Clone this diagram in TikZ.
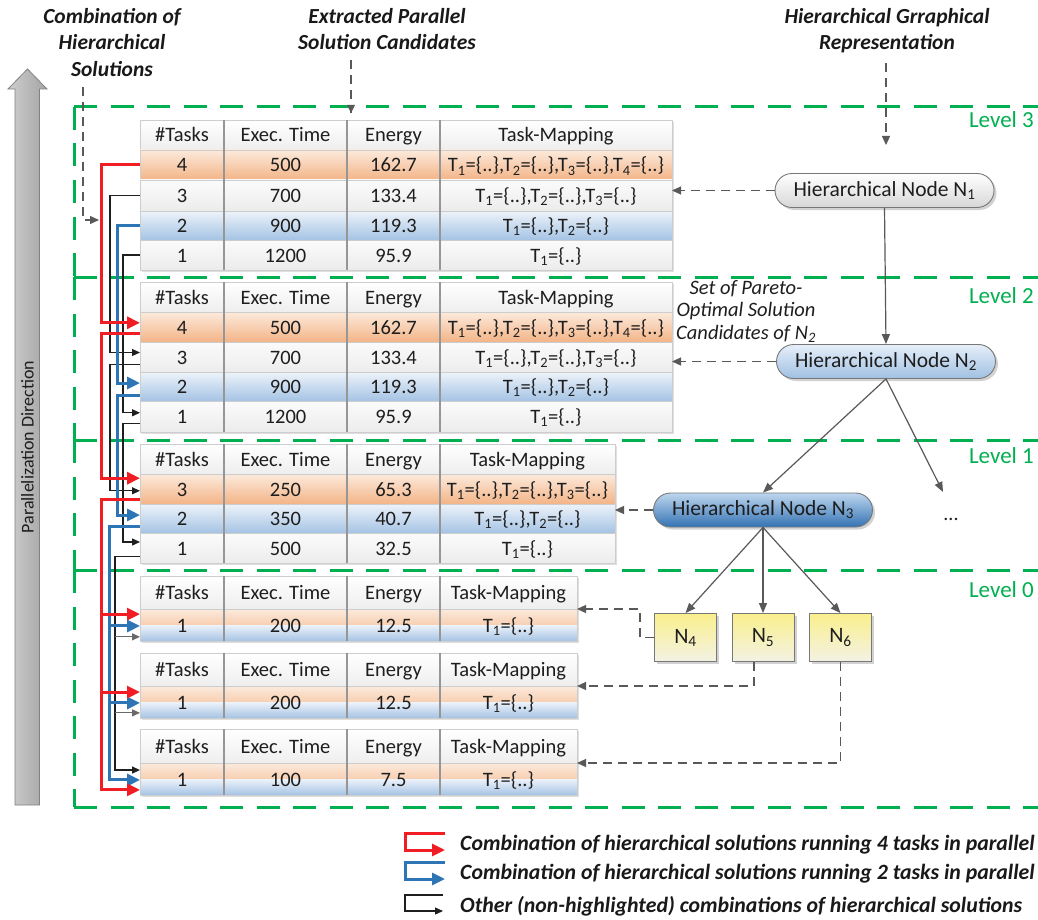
\documentclass[tikz,border=0pt]{standalone}
\usepackage{fontspec}
\setmainfont{Carlito}
\usetikzlibrary{arrows.meta,shadows,calc}

\definecolor{lvgreen}{RGB}{0,176,80}
\definecolor{conred}{RGB}{240,30,36}
\definecolor{conblue}{RGB}{46,117,182}
\definecolor{edgegray}{RGB}{89,89,89}
\definecolor{branchgray}{RGB}{105,105,105}
\definecolor{txt}{RGB}{30,30,30}
\definecolor{headtxt}{RGB}{25,25,25}
\definecolor{tblline}{RGB}{195,195,195}
\definecolor{rowline}{RGB}{205,205,205}
\definecolor{colline}{RGB}{150,150,150}
\definecolor{hdBot}{RGB}{238,238,238}
\definecolor{wTop}{RGB}{251,251,251}
\definecolor{wBot}{RGB}{236,236,236}
\definecolor{orTop}{RGB}{252,234,220}
\definecolor{orBot}{RGB}{243,180,135}
\definecolor{blTop}{RGB}{237,243,250}
\definecolor{blBot}{RGB}{165,195,228}
\definecolor{nodeline}{RGB}{120,120,120}
\definecolor{pAbot}{RGB}{215,215,215}
\definecolor{pBtop}{RGB}{230,239,249}
\definecolor{pBbot}{RGB}{160,192,226}
\definecolor{pCtop}{RGB}{190,214,238}
\definecolor{pCbot}{RGB}{52,115,180}
\definecolor{yTop}{RGB}{249,239,140}
\definecolor{yBot}{RGB}{243,242,228}
\definecolor{arL}{RGB}{205,205,205}
\definecolor{arM}{RGB}{238,238,238}
\definecolor{arR}{RGB}{165,165,165}
\definecolor{arEdge}{RGB}{130,130,130}

\newcommand\fsz[2]{\fontsize{#1}{#2}\selectfont}
\newcommand\Tm[1]{T\textsubscript{#1}=\{..\}}

% table frame: name, top, bottom, right edge
\newcommand\dgFrame[4]{%
  \node[tframe, minimum width={(#4-140)*1pt}, minimum height={(#3-#2)*1pt}] (#1) at ({(140+#4)/2},{(#2+#3)/2}) {};}
% table row: name, top, bottom, right edge, style, four cell texts
\newcommand\dgRow[9]{%
  \node[#5, inner sep=0pt, outer sep=0pt, minimum width={(#4-140)*1pt}, minimum height={(#3-#2)*1pt}] (#1) at ({(140+#4)/2},{(#2+#3)/2}) {};
  \node[cell] (#1a) at (182,{(#2+#3)/2+7}) {#6};
  \node[cell] (#1b) at (285.5,{(#2+#3)/2+7}) {#7};
  \node[cell] (#1c) at (393.5,{(#2+#3)/2+7}) {#8};
  \node[cell] (#1d) at ({(440+#4)/2},{(#2+#3)/2+7}) {#9};}
% column separators: top, bottom
\newcommand\dgCols[2]{%
  \foreach \cx in {224,347,440}{\draw[colsep] (\cx,#1) -- (\cx,#2);}}
% point on the left edge of a row at a given fraction of its height
\newcommand\dgPt[3]{\coordinate (#1) at ($(#2.north west)!#3!(#2.south west)$);}

\begin{document}
\begin{tikzpicture}[x=1pt,y=-1pt,
  tframe/.style={draw=tblline, fill=white, line width=0.8pt, inner sep=0pt, outer sep=0pt,
    drop shadow={shadow xshift=2pt, shadow yshift=-2pt, opacity=0.25}},
  hrow/.style={top color=white, bottom color=hdBot, draw=rowline, line width=0.6pt},
  wrow/.style={top color=wTop, bottom color=wBot, draw=rowline, line width=0.6pt},
  orow/.style={top color=orTop, bottom color=orBot, draw=rowline, line width=0.6pt},
  brow/.style={top color=blTop, bottom color=blBot, draw=rowline, line width=0.6pt},
  erow/.style={draw=rowline, line width=0.6pt, path picture={
      \shade[top color=orTop, bottom color=orBot]
        (path picture bounding box.north west) rectangle (path picture bounding box.east);
      \shade[top color=blTop, bottom color=blBot]
        (path picture bounding box.west) rectangle (path picture bounding box.south east);}},
  cell/.style={anchor=base, inner sep=0pt, font=\fsz{20.5}{24}, text=txt},
  colsep/.style={draw=colline, line width=1.3pt},
  pill/.style={draw=nodeline, line width=0.9pt, rounded corners=17pt, minimum width=219pt,
    minimum height=34pt, inner sep=0pt, font=\fsz{21.5}{26}, text=txt,
    drop shadow={shadow xshift=2.5pt, shadow yshift=-2.5pt, opacity=0.35}},
  pillA/.style={pill, top color=white, bottom color=pAbot},
  pillB/.style={pill, top color=pBtop, bottom color=pBbot},
  pillC/.style={pill, top color=pCtop, bottom color=pCbot},
  ybox/.style={draw=nodeline, line width=0.9pt, minimum width=62pt, minimum height=48pt,
    inner sep=0pt, top color=yTop, bottom color=yBot, font=\fsz{22}{26}, text=txt,
    drop shadow={shadow xshift=2.5pt, shadow yshift=-2.5pt, opacity=0.35}},
  tedge/.style={draw=edgegray, line width=1.2pt, -{Triangle[length=10pt,width=8pt]}},
  dconn/.style={draw=edgegray, line width=1.2pt, dash pattern=on 9pt off 6pt,
    -{Triangle[length=9pt,width=8pt]}},
  redarr/.style={draw=conred, line width=3pt, -{Triangle[length=13pt,width=12pt]}},
  bluearr/.style={draw=conblue, line width=3pt, -{Triangle[length=13pt,width=12pt]}},
  blkarr/.style={draw=black!88, line width=1.2pt, -{Triangle[length=8pt,width=7pt]}},
  grayarr/.style={draw=branchgray, line width=1.2pt, -{Triangle[length=8pt,width=7pt]}},
  lvline/.style={draw=lvgreen, line width=3pt, dash pattern=on 23pt off 13.5pt},
  lvl/.style={anchor=base east, inner sep=0pt, font=\fsz{23}{27}, text=lvgreen},
  head/.style={anchor=north, align=center, inner sep=0pt, font=\fsz{21.5}{26.5}\bfseries\itshape, text=headtxt},
  legtext/.style={anchor=base west, inner sep=0pt, font=\fsz{21.8}{26}\bfseries\itshape, text=headtxt}
]
\useasboundingbox (0,0) rectangle (1038,920);
\fill[white] (0,0) rectangle (1038,920);

% parallelization arrow
\shade[left color=arL, middle color=arM, right color=arR, draw=arEdge, line width=0.8pt]
  (15,805) -- (15,89) -- (8,89) -- (27.5,69) -- (47,89) -- (39.5,89) -- (39.5,805) -- cycle;
\node[rotate=90, font=\fsz{18}{22}, text=txt] (pdir) at (27.5,447) {Parallelization Direction};

% hierarchy levels
\foreach \ly/\lb in {107/277, 277/440, 440/570, 570/807}{
  \draw[lvline] (74,\ly) -- (1040,\ly);
  \draw[lvline] (74,\ly) -- (74,\lb);
}
\draw[lvline] (74,807) -- (1040,807);
\node[lvl] (lv3) at (1034,128) {Level 3};
\node[lvl] (lv2) at (1034,303) {Level 2};
\node[lvl] (lv1) at (1034,463) {Level 1};
\node[lvl] (lv0) at (1034,597) {Level 0};

% headings
\node[head] (hcomb) at (112,8) {Combination of\\Hierarchical\\Solutions};
\node[head] (hext) at (387,8) {Extracted Parallel\\Solution Candidates};
\node[head] (hgr) at (887,8) {Hierarchical Grraphical\\Representation};

% solution candidate tables, level 3
\dgFrame{t3}{120}{270}{672}
\dgRow{t3h}{120}{150}{672}{hrow}{\#Tasks}{Exec. Time}{Energy}{Task-Mapping}
\dgRow{t3r1}{150}{180}{672}{orow}{4}{500}{162.7}{\Tm1,\Tm2,\Tm3,\Tm4}
\dgRow{t3r2}{180}{211}{672}{wrow}{3}{700}{133.4}{\Tm1,\Tm2,\Tm3}
\dgRow{t3r3}{211}{240}{672}{brow}{2}{900}{119.3}{\Tm1,\Tm2}
\dgRow{t3r4}{240}{270}{672}{wrow}{1}{1200}{95.9}{\Tm1}
\dgCols{120}{270}

% level 2
\dgFrame{t2}{282}{432}{672}
\dgRow{t2h}{282}{312}{672}{hrow}{\#Tasks}{Exec. Time}{Energy}{Task-Mapping}
\dgRow{t2r1}{312}{342}{672}{orow}{4}{500}{162.7}{\Tm1,\Tm2,\Tm3,\Tm4}
\dgRow{t2r2}{342}{372}{672}{wrow}{3}{700}{133.4}{\Tm1,\Tm2,\Tm3}
\dgRow{t2r3}{372}{401}{672}{brow}{2}{900}{119.3}{\Tm1,\Tm2}
\dgRow{t2r4}{401}{432}{672}{wrow}{1}{1200}{95.9}{\Tm1}
\dgCols{282}{432}

% level 1
\dgFrame{t1}{444}{563}{615}
\dgRow{t1h}{444}{474}{615}{hrow}{\#Tasks}{Exec. Time}{Energy}{Task-Mapping}
\dgRow{t1r1}{474}{504}{615}{orow}{3}{250}{65.3}{\Tm1,\Tm2,\Tm3}
\dgRow{t1r2}{504}{533}{615}{brow}{2}{350}{40.7}{\Tm1,\Tm2}
\dgRow{t1r3}{533}{563}{615}{wrow}{1}{500}{32.5}{\Tm1}
\dgCols{444}{563}

% level 0
\dgFrame{tA}{576}{641}{577}
\dgRow{tAh}{576}{609}{577}{hrow}{\#Tasks}{Exec. Time}{Energy}{Task-Mapping}
\dgRow{tAr}{609}{641}{577}{erow}{1}{200}{12.5}{\Tm1}
\dgCols{576}{641}
\dgFrame{tB}{653}{718}{577}
\dgRow{tBh}{653}{686}{577}{hrow}{\#Tasks}{Exec. Time}{Energy}{Task-Mapping}
\dgRow{tBr}{686}{718}{577}{erow}{1}{200}{12.5}{\Tm1}
\dgCols{653}{718}
\dgFrame{tC}{729}{795}{577}
\dgRow{tCh}{729}{763}{577}{hrow}{\#Tasks}{Exec. Time}{Energy}{Task-Mapping}
\dgRow{tCr}{763}{795}{577}{erow}{1}{100}{7.5}{\Tm1}
\dgCols{729}{795}

% hierarchical graph
\node[pillA] (n1) at (884.5,190.5) {Hierarchical Node N\textsubscript{1}};
\node[pillB] (n2) at (886,361.5) {Hierarchical Node N\textsubscript{2}};
\node[pillC] (n3) at (763,510) {Hierarchical Node N\textsubscript{3}};
\node[ybox] (n4) at (685.5,637.5) {N\textsubscript{4}};
\node[ybox] (n5) at (763,637.5) {N\textsubscript{5}};
\node[ybox] (n6) at (840.5,637.5) {N\textsubscript{6}};
\node[anchor=base, inner sep=0pt, font=\fsz{20}{24}, text=txt] (dots) at (951,520) {...};
\coordinate (more) at (943,492);
\node[anchor=north, align=center, inner sep=0pt, font=\fsz{20.5}{22.5}\itshape, text=txt]
  (pareto) at (746,280) {Set of Pareto-\\Optimal Solution\\Candidates of N\textsubscript{2}};

\draw[tedge] (n1.south) -- (n2.north);
\draw[tedge] (n2.south) -- (n3.north);
\draw[tedge] (n2.south) -- (more);
\draw[tedge] (n3.south) -- (n4.north);
\draw[tedge] (n3.south) -- (n5.north);
\draw[tedge] (n3.south) -- (n6.north);

% candidate sets handed to the tables
\draw[dconn] (n1.west) -- (n1.west -| t3.east);
\draw[dconn] (n2.west) -- (n2.west -| t2.east);
\draw[dconn] (n3.west) -- (n3.west -| t1.east);
\draw[dconn] (n4.west) -- ++(-14,0) |- (tAr.north -| tA.east);
\draw[dconn] ([xshift=-9pt]n5.south) |- (tBr.north -| tB.east);
\draw[dconn] (n6.south) |- (tCr.north -| tC.east);

% heading pointers
\coordinate (extEnd) at (351,113);
\coordinate (grEnd) at (886,145);
\coordinate (cmbTop) at (83,87);
\coordinate (cmbEnd) at (99,220);
\draw[dconn, -] (hext.south -| extEnd) ++(0,10) -- (extEnd);
\fill[edgegray] (extEnd) ++(-4,-8) -- ++(8,0) -- (extEnd) -- cycle;
\draw[dconn] (hgr.south -| grEnd) ++(0,10) -- (grEnd);
\draw[dconn] (cmbTop) |- (cmbEnd);

% combination channels
\coordinate (chR) at (101,0);
\coordinate (chK) at (110,0);
\coordinate (chB) at (117,0);
\coordinate (chL) at (123,0);
\coordinate (chB0) at (109,0);
\coordinate (chK0) at (115,0);

\dgPt{i2r1}{t2r1}{0.36}
\dgPt{i2r2}{t2r2}{0.35}
\dgPt{i2r3}{t2r3}{0.38}
\dgPt{i2r4}{t2r4}{0.38}
\dgPt{o2r1}{t2r1}{0.73}
\dgPt{o2r2}{t2r2}{0.76}
\dgPt{o2r3}{t2r3}{0.82}
\dgPt{o2r4}{t2r4}{0.72}
\dgPt{i1a}{t1r1}{0.14}
\dgPt{i1b}{t1r1}{0.56}
\dgPt{o1r1}{t1r1}{0.84}
\dgPt{i1c}{t1r2}{0.38}
\dgPt{o1r2}{t1r2}{0.78}
\dgPt{i1d}{t1r3}{0.30}
\dgPt{o1r3}{t1r3}{0.77}
\dgPt{aRed}{tAr}{0.16}
\dgPt{aBlue}{tAr}{0.53}
\dgPt{aBlk}{tAr}{0.87}
\dgPt{bRed}{tBr}{0.19}
\dgPt{bBlue}{tBr}{0.53}
\dgPt{bBlk}{tBr}{0.84}
\dgPt{cBlk}{tCr}{0.22}
\dgPt{cBlue}{tCr}{0.53}
\dgPt{cRed}{tCr}{0.84}

% other combinations
\draw[blkarr] (t3r2.west) -| (chK |- i2r2) -- (i2r2);
\draw[blkarr] (t3r4.west) -| (chL |- i2r4) -- (i2r4);
\draw[blkarr] (o2r2) -| (chK |- i1b) -- (i1b);
\draw[blkarr] (o2r4) -| (chL |- i1d) -- (i1d);
\draw[blkarr] (o1r3) -| (chK0 |- cBlk) -- (cBlk);
\draw[grayarr] (chK0 |- aBlk) -- (aBlk);
\draw[grayarr] (chK0 |- bBlk) -- (bBlk);
% two tasks in parallel
\draw[bluearr] (t3r3.west) -| (chB |- i2r3) -- (i2r3);
\draw[bluearr] (o2r3) -| (chB |- i1c) -- (i1c);
\draw[bluearr] (o1r2) -| (chB0 |- cBlue) -- (cBlue);
\draw[bluearr] (chB0 |- aBlue) -- (aBlue);
\draw[bluearr] (chB0 |- bBlue) -- (bBlue);
% four tasks in parallel
\draw[redarr] (t3r1.west) -| (chR |- i2r1) -- (i2r1);
\draw[redarr] (o2r1) -| (chR |- i1a) -- (i1a);
\draw[redarr] (o1r1) -| (chR |- cRed) -- (cRed);
\draw[redarr] (chR |- aRed) -- (aRed);
\draw[redarr] (chR |- bRed) -- (bRed);

% legend
\coordinate (lgRa) at (445,833);
\coordinate (lgRb) at (445,850);
\coordinate (lgBa) at (445,862);
\coordinate (lgBb) at (445,879);
\coordinate (lgKa) at (443,895);
\coordinate (lgKb) at (443,911);
\draw[redarr] (lgRa) -| (405,841) |- (lgRb);
\draw[bluearr] (lgBa) -| (405,870) |- (lgBb);
\draw[blkarr] (lgKa) -| (405,903) |- (lgKb);
\node[legtext] (lg1) at (460,850) {Combination of hierarchical solutions running 4 tasks in parallel};
\node[legtext] (lg2) at (460,879) {Combination of hierarchical solutions running 2 tasks in parallel};
\node[legtext] (lg3) at (460,912) {Other (non-highlighted) combinations of hierarchical solutions};
\end{tikzpicture}
\end{document}
